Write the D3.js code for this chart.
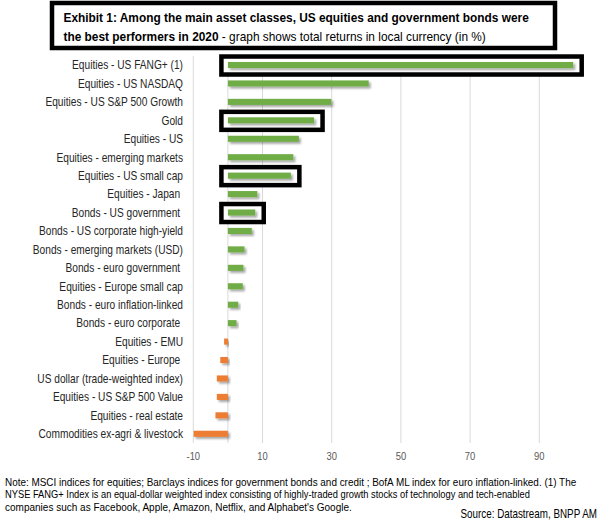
<!DOCTYPE html>
<html>
<head>
<meta charset="utf-8">
<script src="https://cdn.jsdelivr.net/npm/d3@7"></script>
<style>
  body { margin: 0; background: #fff; }
  svg { display: block; }
  text { font-family: "Liberation Sans Narrow", "Arial Narrow", "Liberation Sans", Arial, sans-serif; }
</style>
</head>
<body>
<div id="chart"></div>
<script>
const categories = [
    "Equities - US FANG+ (1)",
    "Equities - US NASDAQ",
    "Equities - US S&P 500 Growth",
    "Gold",
    "Equities - US",
    "Equities - emerging markets",
    "Equities - US small cap",
    "Equities - Japan ",
    "Bonds - US government ",
    "Bonds - US corporate high-yield",
    "Bonds - emerging markets (USD)",
    "Bonds - euro government ",
    "Equities - Europe small cap",
    "Bonds - euro inflation-linked",
    "Bonds - euro corporate ",
    "Equities - EMU",
    "Equities - Europe ",
    "US dollar (trade-weighted index)",
    "Equities - US S&P 500 Value",
    "Equities - real estate",
    "Commodities ex-agri & livestock"
];
const returns = [99.8, 40.7, 29.9, 24.9, 20.5, 18.9, 18.2, 8.5, 7.9, 6.9, 4.8,
                 4.5, 4.3, 3.0, 2.5, -1.1, -2.2, -3.2, -3.2, -3.6, -9.9];
const highlighted = ["Equities - US FANG+ (1)", "Gold", "Equities - US small cap", "Bonds - US government "];
const tickValues = [-10, 10, 30, 50, 70, 90];

const data = categories.map((c, i) => ({ name: c, value: returns[i] }));

const width = 601, height = 525;
const narrow = 0.82; // no Arial Narrow installed, so squeeze Liberation Sans

const svg = d3.select("#chart").append("svg")
    .attr("width", width)
    .attr("height", height);

// squeeze a text horizontally so it spans w pixels from (x0, y0)
function fitText(node, x0, y0, w) {
    const n = node.getComputedTextLength();
    d3.select(node).attr("transform", `translate(${x0}, ${y0}) scale(${w / n}, 1)`);
}

const defs = svg.append("defs");
const shadow = defs.append("filter").attr("id", "shadow")
    .attr("x", "-10%").attr("y", "-50%").attr("width", "130%").attr("height", "250%");
shadow.append("feDropShadow")
    .attr("dx", 2).attr("dy", 2).attr("stdDeviation", 1)
    .attr("flood-color", "#000").attr("flood-opacity", 0.35);

// title box
svg.append("rect")
    .attr("x", 52).attr("y", 3)
    .attr("width", 503).attr("height", 45)
    .attr("fill", "#fff")
    .attr("stroke", "#000")
    .attr("stroke-width", 4.5);

const title = svg.append("g").attr("font-size", "13px").attr("fill", "#000");
const t1 = title.append("text")
    .attr("font-weight", "bold")
    .text("Exhibit 1: Among the main asset classes, US equities and government bonds were");
fitText(t1.node(), 63.5, 22, 466);
const t2 = title.append("text");
t2.append("tspan").attr("font-weight", "bold").text("the best performers in 2020");
t2.append("tspan").text(" - graph shows total returns in local currency (in %)");
fitText(t2.node(), 63.5, 41, 423);

const x = d3.scaleLinear().domain([-10, 90]).range([193.3, 539.3]);
const y = d3.scaleBand().domain(categories).range([55.8, 443]).paddingInner(0.67).paddingOuter(0.335);
const rowCenter = d => y(d) + y.bandwidth() / 2;

// gridlines
svg.append("g")
    .selectAll("line")
    .data(tickValues.concat([0]))
    .join("line")
    .attr("x1", d => x(d)).attr("x2", d => x(d))
    .attr("y1", 55.8).attr("y2", 443)
    .attr("stroke", "#d9d9d9")
    .attr("stroke-width", 1);

// highlight frames
svg.append("g")
    .selectAll("rect")
    .data(data.filter(d => highlighted.includes(d.name)))
    .join("rect")
    .attr("x", x(0) - 6.5)
    .attr("y", d => rowCenter(d.name) - 8.5)
    .attr("width", d => x(d.value) - x(0) + 15)
    .attr("height", 18)
    .attr("fill", "#fff")
    .attr("stroke", "#000")
    .attr("stroke-width", 4.5);

// bars
svg.append("g")
    .selectAll("rect")
    .data(data)
    .join("rect")
    .attr("x", d => x(Math.min(0, d.value)))
    .attr("y", d => y(d.name))
    .attr("width", d => Math.abs(x(d.value) - x(0)))
    .attr("height", y.bandwidth())
    .attr("fill", d => d.value >= 0 ? "#70ad47" : "#ed7d31")
    .attr("filter", "url(#shadow)");

// category labels
svg.append("g")
    .selectAll("text")
    .data(categories)
    .join("text")
    .attr("transform", d => `translate(183, ${rowCenter(d)}) scale(${narrow}, 1)`)
    .attr("dy", "0.35em")
    .attr("text-anchor", "end")
    .style("white-space", "pre")
    .attr("font-size", "12.4px")
    .attr("fill", "#262626")
    .text(d => d);

// x tick labels
svg.append("g")
    .selectAll("text")
    .data(tickValues)
    .join("text")
    .attr("transform", d => `translate(${x(d)}, 460) scale(${narrow}, 1)`)
    .attr("text-anchor", "middle")
    .attr("font-size", "11.5px")
    .attr("fill", "#595959")
    .text(d => d);

// footnote
const notes = [
    "Note: MSCI indices for equities; Barclays indices for government bonds and credit ; BofA ML index for euro inflation-linked. (1) The",
    "NYSE FANG+ Index is an equal-dollar weighted index consisting of highly-traded growth stocks of technology and tech-enabled",
    "companies such as Facebook, Apple, Amazon, Netflix, and Alphabet's Google."
];
const noteWidths = [572, 525, 347];
svg.append("g")
    .selectAll("text")
    .data(notes)
    .join("text")
    .attr("font-size", "10.8px")
    .attr("fill", "#000")
    .text(d => d)
    .each(function (d, i) { fitText(this, 5, 486 + i * 12.4, noteWidths[i]); });

svg.append("text")
    .attr("transform", `translate(597, 518) scale(${narrow}, 1)`)
    .attr("text-anchor", "end")
    .attr("font-size", "12px")
    .attr("fill", "#000")
    .text("Source: Datastream, BNPP AM");
</script>
</body>
</html>
